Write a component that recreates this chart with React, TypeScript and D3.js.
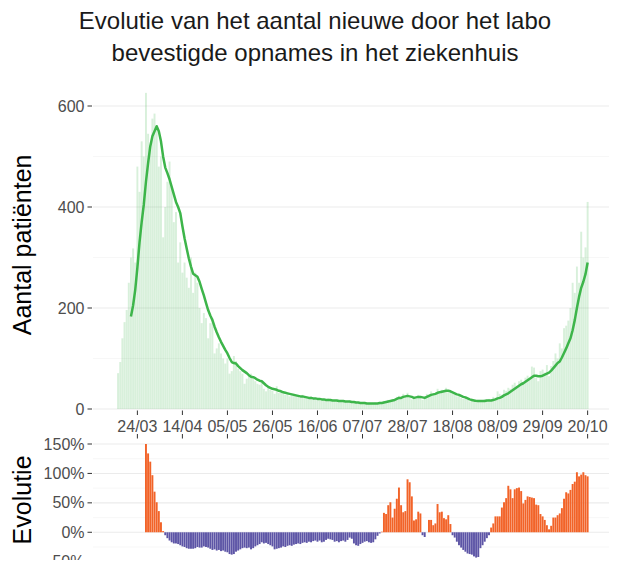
import { useRef, useEffect } from "react";
import * as d3 from "d3";

// first day of the series (15/03/2020)
const startDate = "2020-03-15";

// daily new lab-confirmed hospital admissions, 15/03 -> 20/10
const dailyAdmissions = [
  71, 93, 140, 172, 196, 250, 300, 318, 290, 480,
  430, 530, 500, 626, 545, 520, 575, 585, 560, 480,
  500, 340, 400, 450, 490, 440, 370, 390, 290, 330,
  270, 290, 260, 240, 300, 230, 270, 250, 200, 170,
  190, 180, 140, 170, 180, 110, 120, 130, 110, 100,
  90, 100, 70, 75, 105, 95, 80, 75, 70, 50,
  60, 65, 70, 60, 55, 50, 48, 52, 40, 35,
  42, 38, 36, 30, 45, 32, 34, 30, 28, 33,
  25, 27, 30, 26, 24, 22, 28, 23, 21, 20,
  25, 20, 18, 22, 17, 20, 19, 16, 21, 17,
  15, 18, 16, 17, 14, 16, 15, 13, 17, 12,
  14, 13, 11, 12, 10, 14, 9, 11, 12, 10,
  13, 9, 14, 12, 16, 15, 18, 14, 20, 18,
  24, 26, 20, 30, 25, 32, 22, 19, 24, 20,
  28, 22, 18, 25, 30, 27, 35, 28, 32, 40,
  30, 38, 34, 42, 33, 36, 30, 28, 25, 30,
  22, 20, 24, 18, 15, 16, 14, 12, 18, 16,
  15, 19, 17, 20, 18, 24, 22, 35, 30, 28,
  38, 36, 42, 40, 48, 52, 46, 55, 58, 50,
  62, 66, 60, 84, 82, 62, 55, 75, 78, 72,
  87, 65, 85, 95, 110, 100, 130, 120, 160, 165,
  175, 200, 250, 230, 282, 250, 351, 300, 320, 410,
];

// 7-day average, starts on 21/03
const avgOffset = 6;
const rollingAvg = [
  183, 205, 236, 280, 330, 370, 405, 450, 487, 520,
  540, 550, 560, 550, 530, 500, 478, 467, 455, 440,
  425, 410, 400, 388, 362, 338, 318, 298, 282, 268,
  265, 262, 252, 238, 225, 210, 196, 185, 176, 163,
  152, 142, 133, 125, 117, 110, 101, 93, 91, 90,
  85, 81, 77, 74, 71, 67, 64, 63, 61, 58,
  56, 55, 51, 47, 44, 42, 40, 39, 38, 36,
  35, 33, 32, 31, 30, 29, 28, 27, 26, 25,
  25, 24, 23, 22, 22, 21, 21, 20, 20, 19,
  19, 18, 18, 18, 17, 17, 17, 16, 16, 16,
  15, 15, 15, 14, 14, 13, 13, 12, 12, 12,
  11, 11, 11, 11, 11, 11, 12, 12, 13, 14,
  15, 16, 17, 18, 20, 22, 22, 24, 25, 26,
  25, 24, 22, 23, 24, 24, 23, 22, 24, 26,
  28, 29, 30, 32, 33, 34, 35, 36, 36, 35,
  33, 31, 29, 28, 26, 24, 23, 21, 19, 18,
  17, 16, 16, 16, 16, 16, 17, 17, 17, 18,
  19, 21, 22, 24, 27, 29, 31, 34, 37, 40,
  43, 46, 49, 51, 54, 57, 60, 63, 66, 66,
  65, 65, 66, 68, 70, 72, 76, 81, 86, 91,
  94, 102, 111, 120, 130, 140, 156, 176, 200, 222,
  240, 252, 267, 290,
];

// week-on-week evolution of the average (%), starts on 28/03
const evoOffset = 13;
const evolution = [
  150, 134, 120, 97, 69, 51, 36, 17, 2, -5,
  -10, -14, -17, -19, -19, -20, -22, -24, -25, -27,
  -28, -28, -28, -27, -25, -26, -26, -24, -25, -26,
  -28, -30, -29, -31, -30, -32, -31, -33, -34, -37,
  -38, -37, -33, -31, -29, -27, -26, -27, -26, -29,
  -27, -24, -22, -20, -17, -19, -18, -20, -22, -24,
  -29, -28, -27, -26, -24, -25, -23, -22, -23, -21,
  -20, -19, -20, -18, -17, -18, -16, -17, -15, -14,
  -16, -14, -17, -16, -13, -11, -12, -13, -16, -15,
  -17, -15, -14, -16, -13, -9, -11, -19, -22, -23,
  -20, -18, -16, -15, -17, -18, -17, -12, -6, -2,
  1, 33, 31, 46, 51, 25, 40, 57, 76, 46,
  34, 36, 90, 85, 61, 20, 22, 35, 32, -5,
  -8, 0, 21, 21, 12, 15, 48, 34, 35, 24,
  22, 29, 14, -5, -9, -16, -22, -26, -30, -33,
  -36, -37, -38, -41, -43, -42, -27, -22, -16, -10,
  -5, 8, 15, 27, 27, 27, 42, 51, 58, 79,
  73, 58, 73, 75, 76, 70, 49, 55, 61, 60,
  59, 58, 47, 46, 31, 27, 21, 12, 5, 11,
  25, 25, 29, 32, 41, 57, 68, 66, 72, 82,
  86, 102, 95, 98, 102, 97, 95,
];

const xTickDates = [
  "2020-03-24", "2020-04-14", "2020-05-05", "2020-05-26", "2020-06-16", "2020-07-07",
  "2020-07-28", "2020-08-18", "2020-09-08", "2020-09-29", "2020-10-20",
];
const topTicks = [0, 200, 400, 600];
const topMinor = [100, 300, 500];
const bottomTicks = [-50, 0, 50, 100, 150];
const bottomMinor = [-25, 25, 75, 125];

const font = "'Liberation Sans', Arial, sans-serif";

export default function App() {
  const svgRef = useRef<SVGSVGElement>(null);

  useEffect(() => {
    const svg = d3.select(svgRef.current);
    svg.selectAll("*").remove();

    const parse = d3.utcParse("%Y-%m-%d");
    const start = parse(startDate) as Date;
    const day = (i: number) => new Date(start.getTime() + i * 864e5);
    const fmt = d3.utcFormat("%d/%m");

    const left = 93;
    const right = 614;
    const x = d3.scaleUtc().domain([day(-11.7), day(231.3)]).range([left, right]);
    const bw = (x(day(1)) - x(day(0))) * 0.9;

    const yTop = d3.scaleLinear().domain([0, 600]).range([409, 106]);
    const yBot = d3.scaleLinear().domain([-50, 150]).range([561.7, 444]);

    // title
    const title = svg.append("g").attr("font-family", font).attr("font-size", 24).attr("text-anchor", "middle").attr("fill", "#1a1a1a");
    title.append("text").attr("x", 315).attr("y", 29).text("Evolutie van het aantal nieuwe door het labo");
    title.append("text").attr("x", 315).attr("y", 61).text("bevestigde opnames in het ziekenhuis");

    // ---- top panel ----
    const top = svg.append("g");
    top.selectAll(".minor").data(topMinor).join("line")
      .attr("x1", left).attr("x2", right)
      .attr("y1", (d) => yTop(d)).attr("y2", (d) => yTop(d))
      .attr("stroke", "#f2f2f2").attr("stroke-width", 0.6);
    top.selectAll(".major").data(topTicks).join("line")
      .attr("x1", left).attr("x2", right)
      .attr("y1", (d) => yTop(d)).attr("y2", (d) => yTop(d))
      .attr("stroke", "#ebebeb").attr("stroke-width", 1.1);

    top.append("g").selectAll("rect").data(dailyAdmissions).join("rect")
      .attr("x", (_, i) => x(day(i)) - bw / 2)
      .attr("width", bw)
      .attr("y", (d) => yTop(d))
      .attr("height", (d) => yTop(0) - yTop(d))
      .attr("fill", "#3db54a")
      .attr("fill-opacity", 0.2);

    const line = d3.line<number>()
      .x((_, i) => x(day(i + avgOffset)))
      .y((d) => yTop(d));
    top.append("path").datum(rollingAvg)
      .attr("d", line)
      .attr("fill", "none")
      .attr("stroke", "#3db54a")
      .attr("stroke-width", 2.5)
      .attr("stroke-linejoin", "round");

    // y axis top
    const yAxTop = top.append("g").attr("font-family", font).attr("font-size", 16);
    topTicks.forEach((t) => {
      yAxTop.append("line").attr("x1", 87.5).attr("x2", 92).attr("y1", yTop(t)).attr("y2", yTop(t)).attr("stroke", "#333");
      yAxTop.append("text").attr("x", 84.5).attr("y", yTop(t)).attr("dy", "0.35em").attr("text-anchor", "end").attr("fill", "#4d4d4d").text(t);
    });

    // x axis (below top panel)
    const xAx = top.append("g").attr("font-family", font).attr("font-size", 16);
    xTickDates.forEach((s) => {
      const px = x(parse(s) as Date);
      xAx.append("line").attr("x1", px).attr("x2", px).attr("y1", 410.5).attr("y2", 415).attr("stroke", "#333");
      xAx.append("text").attr("x", px).attr("y", 432).attr("text-anchor", "middle").attr("fill", "#4d4d4d").text(fmt(parse(s) as Date));
    });

    // ---- bottom panel ----
    const bot = svg.append("g");
    bot.selectAll(".minor").data(bottomMinor).join("line")
      .attr("x1", left).attr("x2", right)
      .attr("y1", (d) => yBot(d)).attr("y2", (d) => yBot(d))
      .attr("stroke", "#f2f2f2").attr("stroke-width", 0.6);
    bot.selectAll(".major").data(bottomTicks).join("line")
      .attr("x1", left).attr("x2", right)
      .attr("y1", (d) => yBot(d)).attr("y2", (d) => yBot(d))
      .attr("stroke", "#ebebeb").attr("stroke-width", 1.1);

    bot.append("g").selectAll("rect").data(evolution).join("rect")
      .attr("x", (_, i) => x(day(i + evoOffset)) - bw / 2)
      .attr("width", bw)
      .attr("y", (d) => yBot(Math.max(d, 0)))
      .attr("height", (d) => Math.abs(yBot(d) - yBot(0)))
      .attr("fill", (d) => (d >= 0 ? "#f26328" : "#5d55a6"));

    const yAxBot = bot.append("g").attr("font-family", font).attr("font-size", 16);
    bottomTicks.forEach((t) => {
      yAxBot.append("line").attr("x1", 87.5).attr("x2", 92).attr("y1", yBot(t)).attr("y2", yBot(t)).attr("stroke", "#333");
      yAxBot.append("text").attr("x", 84.5).attr("y", yBot(t)).attr("dy", "0.35em").attr("text-anchor", "end").attr("fill", "#4d4d4d").text(t + "%");
    });
    xTickDates.forEach((s) => {
      const px = x(parse(s) as Date);
      bot.append("line").attr("x1", px).attr("x2", px).attr("y1", 434).attr("y2", 438.5).attr("stroke", "#333");
    });

    // axis titles
    svg.append("text").attr("transform", `translate(31,${yTop(325)}) rotate(-90)`)
      .attr("text-anchor", "middle").attr("font-family", font).attr("font-size", 25).text("Aantal patiënten");
    svg.append("text").attr("transform", `translate(31,${yBot(55)}) rotate(-90)`)
      .attr("text-anchor", "middle").attr("font-family", font).attr("font-size", 25).text("Evolutie");
  }, []);

  return (
    <div style={{ margin: -8 }}>
      <svg ref={svgRef} width={617} height={568} style={{ display: "block" }} />
    </div>
  );
}
